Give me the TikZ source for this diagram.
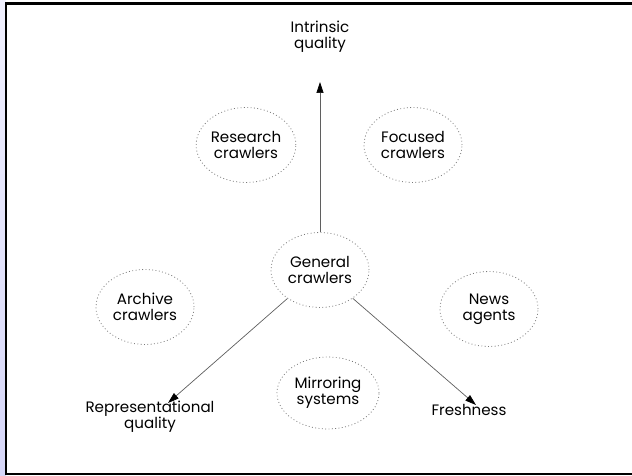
\documentclass[tikz,border=0pt]{standalone}
\usepackage{fontspec}
\setmainfont{Poppins}
\usetikzlibrary{arrows.meta,shapes.geometric}
\definecolor{lilac}{RGB}{214,214,248}
\definecolor{lilaclight}{RGB}{240,240,254}
\definecolor{dots}{RGB}{120,120,120}
\definecolor{shaft}{RGB}{95,95,95}
\newcommand{\crawlfont}{\fontsize{8.6}{9.1}\selectfont}
\tikzset{
  >={Triangle[length=2.2mm,width=1.4mm,color=black]},
  crawler/.style={ellipse,draw=dots,dash pattern=on 0.5pt off 1.4pt,line width=0.45pt,
    minimum width=1.96cm,minimum height=1.5cm,inner sep=0pt,align=center,font=\crawlfont},
  axis/.style={->,draw=shaft,line width=0.4pt},
  axis label/.style={align=center,font=\crawlfont,inner sep=0pt},
}

\begin{document}
\begin{tikzpicture}[x=0.02cm,y=-0.02cm]
  \useasboundingbox (0,0) rectangle (632,476);
  % side strip and frame
  \shade[top color=lilaclight,bottom color=lilac] (0,0) rectangle (6,476);
  \draw[line width=1.54pt] (5,3.3) -- (632,3.3);
  \draw[line width=1.14pt] (6,3) -- (6,474.5);
  \draw[line width=0.9pt] (5,474) -- (632,474);

  % kinds of crawlers
  \node[crawler] (research) at (246,145) {Research\\crawlers};
  \node[crawler] (focused) at (413,145) {Focused\\crawlers};
  \node[crawler] (general) at (320,270) {General\\crawlers};
  \node[crawler] (archive) at (145,307) {Archive\\crawlers};
  \node[crawler] (news) at (489,309) {News\\agents};
  \node[crawler,minimum width=2.04cm,minimum height=1.44cm] (mirror) at (328,393) {Mirroring\\systems};

  % the three axes
  \node[axis label] (intr) at (320,37) {Intrinsic\\quality};
  \node[axis label] (repr) at (150,417) {Representational\\quality};
  \node[axis label] (fresh) at (469,410) {Freshness};
  \coordinate (intr tip) at (320,82);
  \coordinate (repr tip) at (168,403);
  \coordinate (fresh tip) at (476,405);
  \draw[axis] (general) -- (intr tip);
  \draw[axis] (general) -- (repr tip);
  \draw[axis] (general) -- (fresh tip);
\end{tikzpicture}
\end{document}
